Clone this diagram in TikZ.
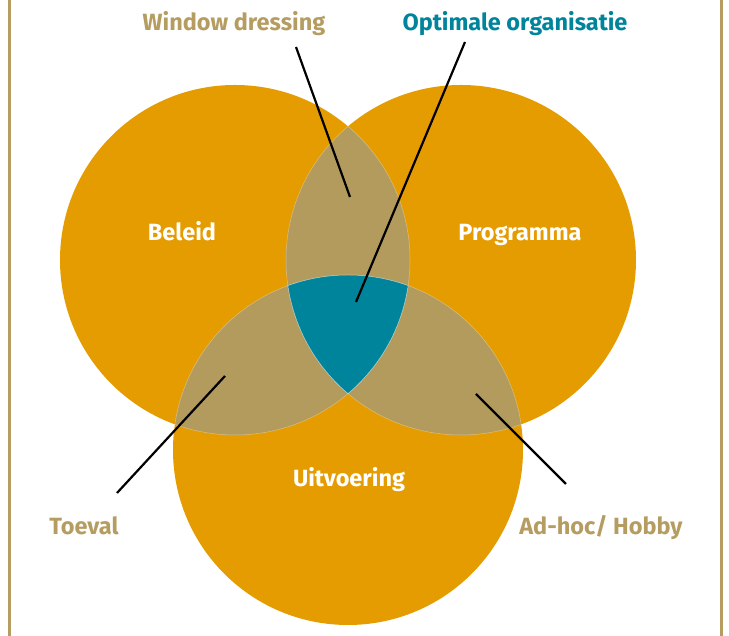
\documentclass[tikz,border=0pt]{standalone}
\usepackage{fontspec}
\setmainfont{Fira Sans}
\definecolor{vorange}{RGB}{229,156,0}
\definecolor{vtan}{RGB}{179,155,94}
\definecolor{vteal}{RGB}{0,132,155}
\definecolor{vgold}{RGB}{181,156,96}
\begin{document}
\begin{tikzpicture}[x=1pt,y=1pt,
  lbl/.style={font=\fontsize{23.5}{26}\selectfont\bfseries,anchor=base,inner sep=0pt},
  inlbl/.style={lbl,text=white},
  outlbl/.style={lbl,text=vgold},
  lead/.style={draw=black,line width=2.2pt}]
\useasboundingbox (0,0) rectangle (729,636);
\draw[vgold,line width=2.5pt] (9.5,0) -- (9.5,636);
\draw[vgold,line width=2.5pt] (721.5,0) -- (721.5,636);
\def\ca{(235,376) circle (175)}
\def\cb{(461,376) circle (175)}
\def\cc{(348,186) circle (175)}
\fill[vorange] \ca;
\fill[vorange] \cb;
\fill[vorange] \cc;
\begin{scope}\clip \ca; \fill[vtan] \cb; \fill[vtan] \cc; \end{scope}
\begin{scope}\clip \cb; \fill[vtan] \cc; \end{scope}
\begin{scope}\clip \ca; \clip \cb; \fill[vteal] \cc; \end{scope}
\begin{scope}
\clip \ca; \draw[white,opacity=0.35,line width=0.5pt] \cb; \draw[white,opacity=0.35,line width=0.5pt] \cc;
\end{scope}
\begin{scope}
\clip \cb; \draw[white,opacity=0.35,line width=0.5pt] \ca; \draw[white,opacity=0.35,line width=0.5pt] \cc;
\end{scope}
\begin{scope}
\clip \cc; \draw[white,opacity=0.35,line width=0.5pt] \ca; \draw[white,opacity=0.35,line width=0.5pt] \cb;
\end{scope}
\node[inlbl] (beleid) at (182,395) {Beleid};
\node[inlbl] (prog) at (520,395) {Programma};
\node[inlbl] (uitv) at (349,149) {Uitvoering};
\node[outlbl] (wd) at (234,605) {Window dressing};
\node[lbl,text=vteal] (oo) at (515,605) {Optimale organisatie};
\node[outlbl] (toeval) at (84,101) {Toeval};
\node[outlbl] (adhoc) at (601,101) {Ad-hoc/ Hobby};
\coordinate (wdA) at (296,589);
\coordinate (wdB) at (350,439);
\coordinate (ooA) at (465,594);
\coordinate (ooB) at (356,334);
\coordinate (toA) at (117,143);
\coordinate (toB) at (225,260);
\coordinate (adA) at (476,242);
\coordinate (adB) at (566,152);
\draw[lead] (wdA) -- (wdB);
\draw[lead] (ooA) -- (ooB);
\draw[lead] (toA) -- (toB);
\draw[lead] (adA) -- (adB);
\end{tikzpicture}
\end{document}
